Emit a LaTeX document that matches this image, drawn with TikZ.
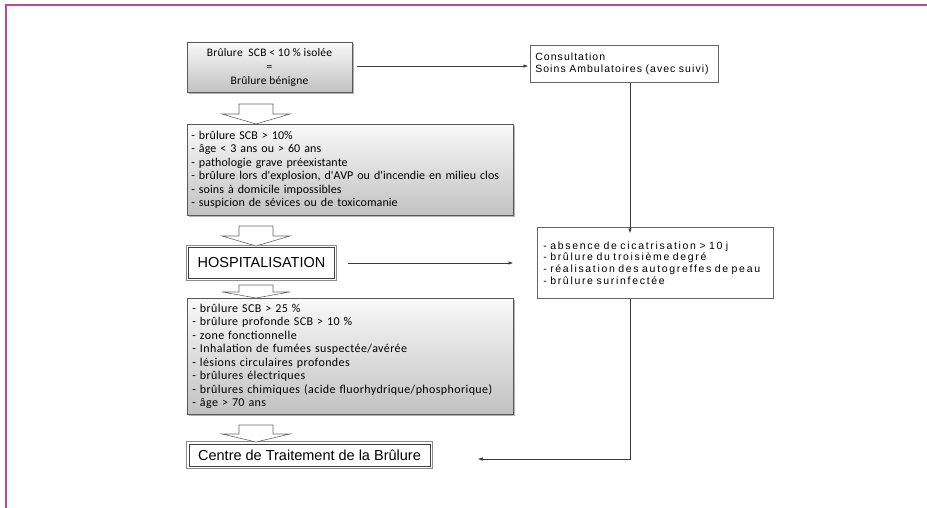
\documentclass[tikz,border=0pt]{standalone}
\usepackage{fontspec}
\setmainfont{Carlito}
\newfontfamily\calf[LetterSpace=2]{Carlito}
\newfontfamily\calfa[LetterSpace=0.7]{Carlito}
\newfontfamily\calfb[LetterSpace=3.3]{Carlito}
\newfontfamily\arialf{Liberation Sans}
\newfontfamily\arialc[LetterSpace=10]{Liberation Sans}
\newfontfamily\arialr[LetterSpace=16]{Liberation Sans}
\usetikzlibrary{arrows.meta,shadows}
\definecolor{framepink}{HTML}{C8468A}
\definecolor{lncol}{HTML}{3A3A3A}
\begin{document}
\begin{tikzpicture}[x=1pt,y=-1pt,
  gbox/.style={draw=black!65, line width=0.6pt, top color=gray!5, bottom color=gray!48,
    drop shadow={shadow xshift=2pt, shadow yshift=-2pt, fill=black!50, opacity=0.6}},
  dbox/.style={draw=black!75, line width=0.6pt, fill=white, inner sep=0pt},
  outerline/.style={draw=black!45, line width=0.9pt},
  wbox/.style={draw=black!60, line width=0.6pt, fill=white},
  conn/.style={draw=lncol, line width=0.5pt},
  tip/.style={-{Latex[length=4.5pt,width=3.5pt]}},
  barrow/.style={draw=black!60, line width=0.6pt, fill=white}]
\useasboundingbox (0,0) rectangle (927,508);
\draw[framepink, line width=1.1pt] (927,5) -- (6,5) -- (6,508);

% left column
\node[gbox, minimum width=165pt, minimum height=50pt, align=center, inner sep=0pt,
  font=\calf\fontsize{11.5}{14}\selectfont] (b1) at (269.5,67)
  {Brûlure\ \ SCB < 10 \% isolée\\=\\Brûlure bénigne};

\node[gbox, anchor=north west, text width=318pt, inner xsep=4pt, inner ysep=0pt,
  minimum height=91pt, align=left, font=\calfa\fontsize{12}{13.5}\selectfont] (l1) at (187,124)
  {- brûlure SCB > 10\%\\
   - âge < 3 ans ou > 60 ans\\
   - pathologie grave préexistante\\
   - brûlure lors d'explosion, d'AVP ou d'incendie en milieu clos\\
   - soins à domicile impossibles\\
   - suspicion de sévices ou de toxicomanie};

\node[dbox, minimum width=146pt, minimum height=31pt,
  font=\arialf\fontsize{14.5}{16}\selectfont] (hosp) at (261.5,263) {HOSPITALISATION};
\draw[outerline] ([xshift=-2pt,yshift=2pt]hosp.north west) rectangle ([xshift=2pt,yshift=-2pt]hosp.south east);

\node[gbox, anchor=north west, text width=316pt, inner xsep=5pt, inner ysep=0pt,
  minimum height=116pt, align=left, font=\calfb\fontsize{12}{13.5}\selectfont] (l2) at (187,298)
  {- brûlure SCB > 25 \%\\
   - brûlure profonde SCB > 10 \%\\
   - zone fonctionnelle\\
   - Inhalation de fumées suspectée/avérée\\
   - lésions circulaires profondes\\
   - brûlures électriques\\
   - brûlures chimiques (acide fluorhydrique/phosphorique)\\
   - âge > 70 ans};

\node[dbox, minimum width=241pt, minimum height=22pt,
  font=\arialf\fontsize{14.5}{16}\selectfont] (ctb) at (309.5,455) {Centre de Traitement de la Brûlure};
\draw[outerline] ([xshift=-2pt,yshift=2pt]ctb.north west) rectangle ([xshift=2pt,yshift=-2pt]ctb.south east);

% right column
\node[wbox, anchor=north west, text width=178pt, inner xsep=5pt, inner ysep=0pt,
  minimum height=37pt, align=left, font=\arialc\fontsize{10.5}{12.7}\selectfont] (cons) at (530,45)
  {Consultation\\Soins Ambulatoires (avec suivi)};

\node[wbox, anchor=north west, text width=224pt, inner xsep=6pt, inner ysep=0pt,
  minimum height=71pt, align=left, font=\arialr\fontsize{10.5}{11.7}\selectfont] (crit) at (537,227)
  {- absence de cicatrisation > 10 j\\
   - brûlure du troisième degré\\
   - réalisation des autogreffes de peau\\
   - brûlure surinfectée};

% block arrows
\draw[barrow] (239,104) -- (273,104) -- (273,114) -- (290,114) -- (256,124) -- (222,114) -- (239,114) -- cycle;
\draw[barrow] (239,226) -- (273,226) -- (273,236) -- (290,236) -- (256,246) -- (222,236) -- (239,236) -- cycle;
\draw[barrow] (239,285) -- (273,285) -- (273,292) -- (290,292) -- (256,298) -- (222,292) -- (239,292) -- cycle;
\draw[barrow] (239,425) -- (273,425) -- (273,434) -- (290,434) -- (256,442) -- (222,434) -- (239,434) -- cycle;

% connectors
\coordinate (vx) at (630,0);
\coordinate (corner) at (630,459);
\coordinate (endpt) at (478,459);
\draw[conn, tip] ([xshift=5pt,yshift=1pt]b1.east) -- ([xshift=-2pt,yshift=1pt]b1.east -| cons.west) ;
\draw[conn, tip] (vx |- cons.south) -- ([yshift=-6pt]vx |- crit.north);
\draw[conn, tip] ([xshift=13pt]hosp.east) -- ([xshift=-24pt]hosp.east -| crit.west);
\draw[conn, tip] (vx |- crit.south) -- (corner) -- (endpt);
\end{tikzpicture}
\end{document}
